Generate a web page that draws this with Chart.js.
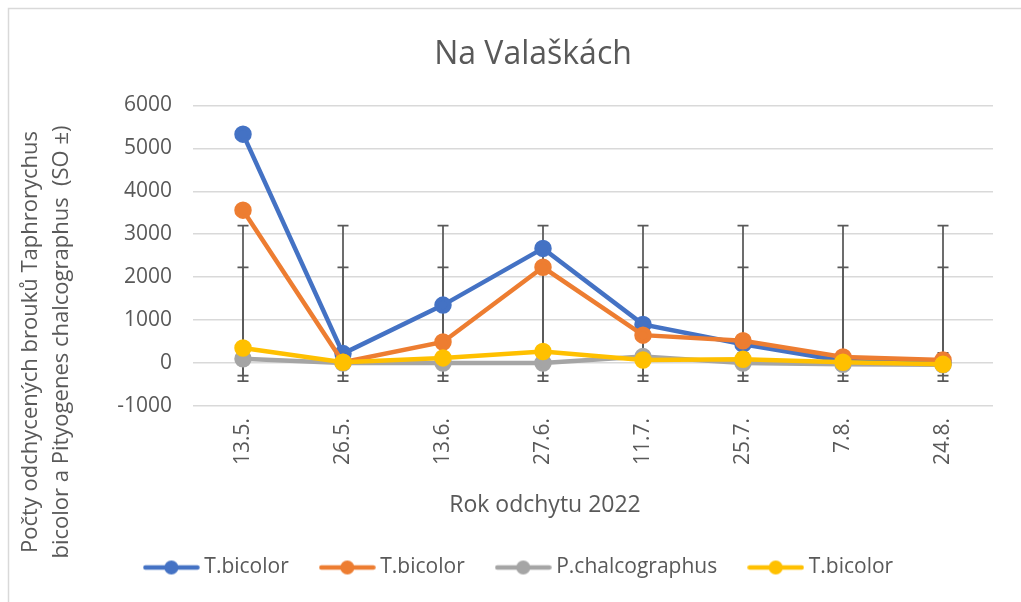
<!DOCTYPE html>
<html>
<head>
<meta charset="utf-8">
<script src="https://cdn.jsdelivr.net/npm/chart.js@4.4.1/dist/chart.umd.min.js"></script>
<style>
  html, body { margin: 0; padding: 0; background: #ffffff; }
  #wrap { width: 1021px; height: 602px; }
</style>
</head>
<body>
<div id="wrap"><canvas id="c" width="1021" height="602"></canvas></div>
<script>
// ---- data ----
const categories = ["13.5.", "26.5.", "13.6.", "27.6.", "11.7.", "25.7.", "7.8.", "24.8."];
const seriesNames = ["T.bicolor", "T.bicolor", "P.chalcographus", "T.bicolor"];
const blueValues   = [5330, 220, 1350, 2670, 900, 440, 50, 0];
const orangeValues = [3560, 20, 490, 2230, 650, 520, 140, 70];
const grayValues   = [100, 0, 0, 0, 150, 0, -30, -40];
const yellowValues = [350, 20, 120, 270, 70, 90, 20, -30];
// error bar extents (SO ±) per series: [low, high]
const blueErr   = [-420, 3200];
const orangeErr = [-290, 2230];
const grayErr   = [-30, 90];
const yellowErr = [-10, 240];
const yMin = -1000, yMax = 6000, yStep = 1000;
const chartTitle = "Na Valaškách";
const xTitle = "Rok odchytu 2022";
const yTitleLines = ["Počty odchycených brouků Taphrorychus", "bicolor a Pityogenes chalcographus  (SO ±)"];

const colors = ["#4472C4", "#ED7D31", "#A5A5A5", "#FFC000"];
const allValues = [blueValues, orangeValues, grayValues, yellowValues];
const allErr = [blueErr, orangeErr, grayErr, yellowErr];
const textColor = "#595959";
const FONT = "'Open Sans', sans-serif";

Chart.defaults.font.family = FONT;
Chart.defaults.color = textColor;

function legendIcon(color) {
  const c = document.createElement('canvas');
  c.width = 57; c.height = 16;
  const g = c.getContext('2d');
  g.strokeStyle = color; g.lineWidth = 4.5; g.lineCap = 'round';
  g.beginPath(); g.moveTo(2.5, 8); g.lineTo(54.5, 8); g.stroke();
  g.fillStyle = color;
  g.beginPath(); g.arc(28.5, 8, 7, 0, Math.PI * 2); g.fill();
  return c;
}
const legendIcons = colors.map(legendIcon);

const datasets = allValues.map((vals, i) => ({
  label: seriesNames[i],
  data: vals,
  borderColor: colors[i],
  backgroundColor: colors[i],
  pointBackgroundColor: colors[i],
  pointBorderColor: colors[i],
  borderWidth: 4.5,
  pointRadius: 6.5,
  pointHoverRadius: 6.5,
  tension: 0,
  clip: false,
  order: 4 - i
}));

const framePlugin = {
  id: 'frame',
  beforeDraw(chart) {
    const ctx = chart.ctx;
    ctx.save();
    ctx.fillStyle = '#ffffff';
    ctx.fillRect(0, 0, chart.width, chart.height);
    ctx.strokeStyle = '#D9D9D9';
    ctx.lineWidth = 1.5;
    ctx.strokeRect(8.5, 8.5, 1200, 800);
    ctx.restore();
  },
  afterLayout(chart) {
    // centre the legend row the way the reference does
    if (chart.legend) { chart.legend.left -= 12; chart.legend.right -= 12; }
  }
};

const errorBarPlugin = {
  id: 'errorBars',
  beforeDatasetsDraw(chart) {
    const ctx = chart.ctx;
    const xs = chart.scales.x, ys = chart.scales.y;
    ctx.save();
    ctx.strokeStyle = '#595959';
    ctx.lineWidth = 1.75;
    allErr.forEach((err) => {
      categories.forEach((cat, i) => {
        const x = xs.getPixelForValue(i);
        const yl = ys.getPixelForValue(err[0]);
        const yh = ys.getPixelForValue(err[1]);
        ctx.beginPath();
        ctx.moveTo(x, yl); ctx.lineTo(x, yh);
        ctx.moveTo(x - 5.5, yl); ctx.lineTo(x + 5.5, yl);
        ctx.moveTo(x - 5.5, yh); ctx.lineTo(x + 5.5, yh);
        ctx.stroke();
      });
    });
    ctx.restore();
  }
};

const axisTitlePlugin = {
  id: 'axisTitles',
  afterDraw(chart) {
    const ctx = chart.ctx;
    ctx.save();
    ctx.fillStyle = textColor;
    ctx.textAlign = 'center';
    ctx.textBaseline = 'middle';
    ctx.font = "23px " + FONT;
    ctx.fillText(xTitle, 545, 505);
    ctx.font = "22px " + FONT;
    yTitleLines.forEach((line, k) => {
      ctx.save();
      ctx.translate(31 + k * 31, 342);
      ctx.rotate(-Math.PI / 2);
      ctx.fillText(line, 0, 0);
      ctx.restore();
    });
    ctx.restore();
  }
};

new Chart(document.getElementById('c'), {
  type: 'line',
  data: { labels: categories, datasets },
  options: {
    responsive: false,
    animation: false,
    devicePixelRatio: 1,
    layout: { padding: { left: 73, right: 28, top: 0, bottom: 14 } },
    plugins: {
      title: {
        display: true,
        text: chartTitle,
        color: textColor,
        font: { size: 32, weight: 'normal', family: FONT },
        padding: { top: 36, bottom: 31 }
      },
      legend: {
        position: 'bottom',
        labels: {
          usePointStyle: true,
          pointStyleWidth: 45,
          padding: 36,
          color: textColor,
          font: { size: 21, family: FONT },
          sort: (a, b) => a.datasetIndex - b.datasetIndex,
          generateLabels: (chart) => Chart.defaults.plugins.legend.labels.generateLabels(chart)
            .map(l => Object.assign(l, { pointStyle: legendIcons[l.datasetIndex] }))
        }
      },
      tooltip: { enabled: false }
    },
    scales: {
      x: {
        offset: true,
        grid: { display: false, drawTicks: false },
        border: { display: false },
        ticks: { color: textColor, font: { size: 21 }, minRotation: 90, maxRotation: 90, padding: 12 },
        afterFit(scale) { scale.height = 115; }
      },
      y: {
        min: yMin, max: yMax,
        grid: { color: '#D9D9D9', lineWidth: 1.5, drawTicks: false },
        border: { display: false },
        ticks: { stepSize: yStep, color: textColor, font: { size: 21 }, padding: 21,
                 callback: (v) => String(v) },
        afterFit(scale) { scale.width = 120; }
      }
    }
  },
  plugins: [framePlugin, errorBarPlugin, axisTitlePlugin]
});
</script>
</body>
</html>
